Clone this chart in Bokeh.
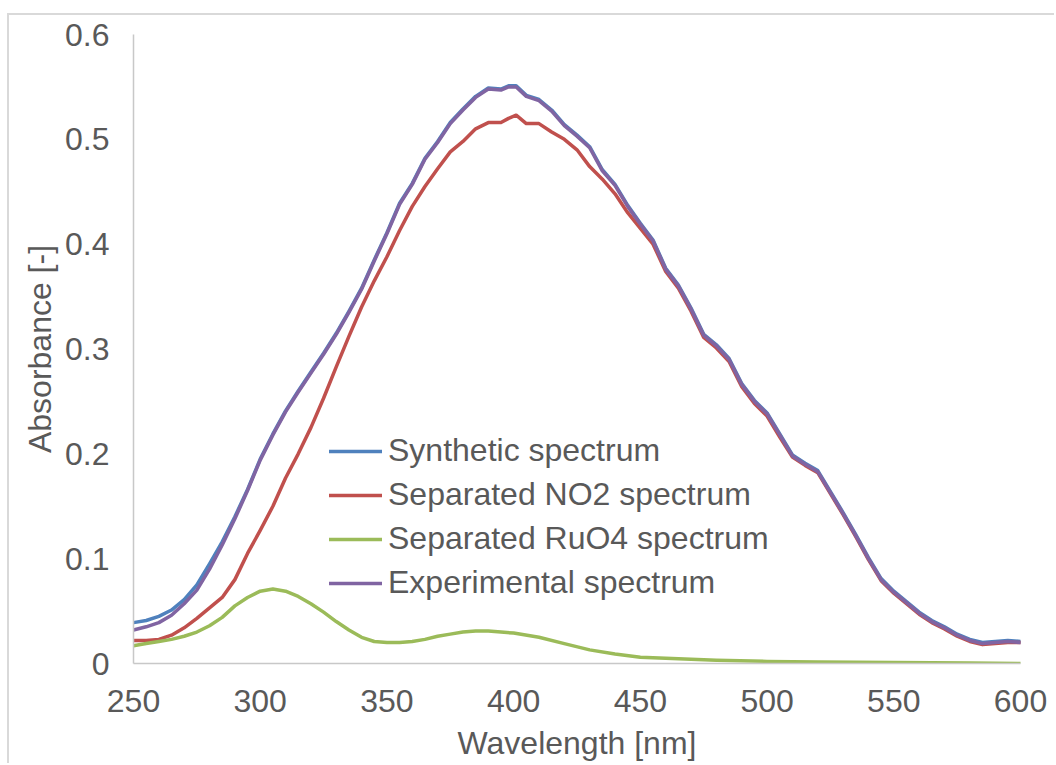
from bokeh.plotting import figure
from bokeh.models import Range1d, Legend, LegendItem, FixedTicker
from bokeh.embed import file_html
from bokeh.resources import INLINE

# ---- data ----
wavelength = [250, 255, 260, 265, 270, 275, 280, 285, 290, 295, 300, 305, 310, 315, 320, 325,
              330, 335, 340, 345, 350, 355, 360, 365, 370, 375, 380, 385, 390, 395, 398, 401,
              405, 410, 415, 420, 425, 430, 435, 440, 445, 450, 455, 460, 465, 470, 475, 480,
              485, 490, 495, 500, 505, 510, 515, 520, 525, 530, 535, 540, 545, 550, 555, 560,
              565, 570, 575, 580, 585, 590, 595, 600]

experimental = [0.032, 0.035, 0.039, 0.046, 0.057, 0.070, 0.090, 0.113, 0.138, 0.165, 0.194, 0.218,
                0.240, 0.259, 0.277, 0.295, 0.314, 0.335, 0.357, 0.384, 0.410, 0.438, 0.457, 0.481,
                0.497, 0.515, 0.528, 0.540, 0.548, 0.547, 0.550, 0.550, 0.541, 0.537, 0.527, 0.513,
                0.503, 0.492, 0.470, 0.456, 0.436, 0.419, 0.403, 0.376, 0.360, 0.338, 0.313, 0.303,
                0.290, 0.266, 0.250, 0.238, 0.218, 0.198, 0.190, 0.183, 0.163, 0.143, 0.122, 0.100,
                0.080, 0.068, 0.058, 0.048, 0.040, 0.034, 0.027, 0.022, 0.019, 0.020, 0.021, 0.020]

synthetic = [0.039, 0.041, 0.045, 0.051, 0.061, 0.075, 0.095, 0.116, 0.140, 0.166, 0.195, 0.219,
             0.241, 0.260, 0.278, 0.296, 0.315, 0.336, 0.358, 0.385, 0.411, 0.439, 0.458, 0.482,
             0.498, 0.516, 0.529, 0.541, 0.549, 0.548, 0.551, 0.551, 0.542, 0.538, 0.528, 0.514,
             0.504, 0.493, 0.471, 0.457, 0.437, 0.420, 0.404, 0.377, 0.361, 0.339, 0.314, 0.304,
             0.291, 0.267, 0.251, 0.239, 0.219, 0.199, 0.191, 0.184, 0.164, 0.144, 0.123, 0.101,
             0.081, 0.069, 0.059, 0.049, 0.041, 0.035, 0.028, 0.023, 0.020, 0.021, 0.022, 0.021]

no2 = [0.022, 0.022, 0.023, 0.027, 0.034, 0.043, 0.053, 0.063, 0.080, 0.105, 0.127, 0.150,
       0.177, 0.200, 0.225, 0.253, 0.283, 0.312, 0.340, 0.365, 0.388, 0.413, 0.436, 0.455,
       0.472, 0.488, 0.498, 0.510, 0.516, 0.516, 0.520, 0.523, 0.515, 0.515, 0.507, 0.500,
       0.490, 0.474, 0.462, 0.448, 0.430, 0.415, 0.400, 0.374, 0.358, 0.336, 0.311, 0.301,
       0.288, 0.264, 0.248, 0.236, 0.216, 0.197, 0.189, 0.182, 0.162, 0.142, 0.121, 0.099,
       0.079, 0.067, 0.057, 0.047, 0.039, 0.033, 0.026, 0.021, 0.018, 0.019, 0.020, 0.020]

wavelength_ruo4 = [250, 255, 260, 265, 270, 275, 280, 285, 290, 295, 300, 305, 310, 315, 320, 325,
                   330, 335, 340, 345, 350, 355, 360, 365, 370, 375, 380, 385, 390, 395, 400, 410,
                   420, 430, 440, 450, 460, 470, 480, 500, 520, 550, 580, 600]
ruo4 = [0.017, 0.019, 0.021, 0.023, 0.026, 0.030, 0.036, 0.044, 0.055, 0.063, 0.069, 0.071,
        0.069, 0.064, 0.057, 0.049, 0.040, 0.032, 0.025, 0.021, 0.020, 0.020, 0.021, 0.023,
        0.026, 0.028, 0.030, 0.031, 0.031, 0.030, 0.029, 0.025, 0.019, 0.013, 0.009, 0.006,
        0.005, 0.004, 0.003, 0.002, 0.0015, 0.001, 0.0005, 0.0]

series_names = ["Synthetic spectrum", "Separated NO2 spectrum",
                "Separated RuO4 spectrum", "Experimental spectrum"]
series_colors = ["#4F81BD", "#C0504D", "#9BBB59", "#8064A2"]

x_ticks = [250, 300, 350, 400, 450, 500, 550, 600]
y_ticks = [0, 0.1, 0.2, 0.3, 0.4, 0.5, 0.6]
y_tick_labels = {0: "0", 0.1: "0.1", 0.2: "0.2", 0.3: "0.3", 0.4: "0.4", 0.5: "0.5", 0.6: "0.6"}

FONT = "Liberation Sans"
TXT = "#595959"
FS = "32px"

# outer chart border starts at (7, 13) in the reference
p = figure(width=1047, height=750, output_backend="svg", toolbar_location=None,
           x_range=Range1d(250, 600), y_range=Range1d(0, 0.6),
           min_border_left=124, min_border_right=36, min_border_top=19, min_border_bottom=102)
p.styles = {"margin-left": "7px", "margin-top": "13px",
            "border-left": "2px solid #d9d9d9", "border-top": "2px solid #d9d9d9"}
p.outline_line_color = None
p.grid.visible = False
p.background_fill_color = "white"
p.border_fill_color = "white"

xs_list = [wavelength, wavelength, wavelength_ruo4, wavelength]
ys_list = [synthetic, no2, ruo4, experimental]
renderers = []
for xs, ys, c in zip(xs_list, ys_list, series_colors):
    r = p.line(xs, ys, line_color=c, line_width=3.5, line_join="round", line_cap="round")
    renderers.append(r)

for ax in (p.xaxis[0], p.yaxis[0]):
    ax.axis_line_color = "#c8c8c8"
    ax.axis_line_width = 1.5
    ax.major_tick_line_color = None
    ax.minor_tick_line_color = None
    ax.major_label_text_font = FONT
    ax.major_label_text_font_size = FS
    ax.major_label_text_color = TXT
    ax.axis_label_text_font = FONT
    ax.axis_label_text_font_size = FS
    ax.axis_label_text_color = TXT
    ax.axis_label_text_font_style = "normal"

p.xaxis.ticker = FixedTicker(ticks=x_ticks)
p.yaxis.ticker = FixedTicker(ticks=y_ticks)
p.yaxis.major_label_overrides = y_tick_labels
p.xaxis.axis_label = "Wavelength [nm]"
p.yaxis.axis_label = "Absorbance [-]"
p.xaxis.major_label_standoff = 20
p.yaxis.major_label_standoff = 18
p.xaxis.axis_label_standoff = 10
p.yaxis.axis_label_standoff = 4

legend = Legend(items=[LegendItem(label=n, renderers=[r]) for n, r in zip(series_names, renderers)],
                location=(196, 62), padding=0, margin=0, spacing=7, glyph_width=53,
                glyph_height=30, label_height=30, label_standoff=6,
                label_text_font=FONT, label_text_font_size=FS, label_text_color=TXT,
                border_line_color=None, background_fill_alpha=0)
p.add_layout(legend)

open("out.html", "w").write(file_html(p, INLINE))
